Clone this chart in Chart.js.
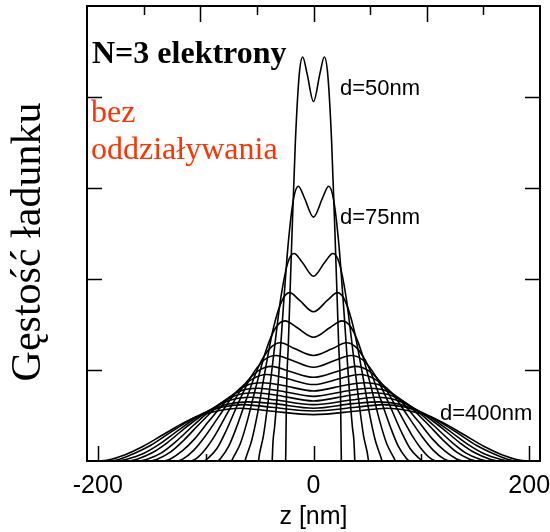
<!DOCTYPE html>
<html>
<head>
<meta charset="utf-8">
<script src="https://cdn.jsdelivr.net/npm/chart.js@4.4.1/dist/chart.umd.min.js"></script>
<style>
  html, body { margin: 0; padding: 0; background: #ffffff; }
  #wrap { width: 550px; height: 532px; }
</style>
</head>
<body>
<div id="wrap"><canvas id="c" width="550" height="532"></canvas></div>
<script>
// ---- data (z in nm, charge density in arbitrary units) ----
const z50  = [-25.8,-25,-23.4,-20.4,-16.8,-13.2,-10,-6,0,6,10,13.2,16.8,20.4,23.4,25,25.8];
const rho50 = [0,0.76,1.26,2.33,3.51,4.25,4.44,4.26,3.95,4.26,4.44,4.25,3.51,2.33,1.26,0.76,0];

const z75  = [-38.3,-37.5,-36.1,-32.8,-28.6,-23.5,-18.5,-14,-8.4,0,8.4,14,18.5,23.5,28.6,32.8,36.1,37.5,38.3];
const rho75 = [0,0.22,0.37,0.85,1.58,2.38,2.88,3.02,2.89,2.68,2.89,3.02,2.88,2.38,1.58,0.85,0.37,0.22,0];

const z100  = [-51,-50,-46.4,-42.1,-36.7,-30.2,-23.8,-18,-10.8,0,10.8,18,23.8,30.2,36.7,42.1,46.4,50,51];
const rho100 = [0,0.08,0.28,0.65,1.19,1.8,2.18,2.28,2.19,2.03,2.19,2.28,2.18,1.8,1.19,0.65,0.28,0.08,0];

const z125  = [-63.5,-62.5,-57.2,-51.9,-45.2,-37.2,-29.3,-22.2,-13.3,0,13.3,22.2,29.3,37.2,45.2,51.9,57.2,62.5,63.5];
const rho125 = [0,0.04,0.23,0.52,0.97,1.46,1.76,1.85,1.77,1.64,1.77,1.85,1.76,1.46,0.97,0.52,0.23,0.04,0];

const z150  = [-76,-74.3,-67.9,-61.6,-53.7,-44.2,-34.8,-26.3,-15.8,0,15.8,26.3,34.8,44.2,53.7,61.6,67.9,74.3,76];
const rho150 = [0,0.04,0.19,0.43,0.8,1.21,1.47,1.54,1.47,1.36,1.47,1.54,1.47,1.21,0.8,0.43,0.19,0.04,0];

const z175  = [-88.5,-86,-78.7,-71.4,-62.2,-51.2,-40.3,-30.5,-18.3,0,18.3,30.5,40.3,51.2,62.2,71.4,78.7,86,88.5];
const rho175 = [0,0.03,0.16,0.37,0.68,1.03,1.24,1.3,1.24,1.16,1.24,1.3,1.24,1.03,0.68,0.37,0.16,0.03,0];

const z200  = [-101,-97.8,-89.4,-81.1,-70.7,-58.2,-45.8,-34.7,-20.8,0,20.8,34.7,45.8,58.2,70.7,81.1,89.4,97.8,101];
const rho200 = [0,0.03,0.14,0.33,0.61,0.92,1.11,1.16,1.11,1.03,1.11,1.16,1.11,0.92,0.61,0.33,0.14,0.03,0];

const z225  = [-113.5,-109.5,-100.2,-90.9,-79.2,-65.2,-51.3,-38.8,-23.3,0,23.3,38.8,51.3,65.2,79.2,90.9,100.2,109.5,113.5];
const rho225 = [0,0.02,0.13,0.29,0.54,0.82,0.99,1.04,0.99,0.92,0.99,1.04,0.99,0.82,0.54,0.29,0.13,0.02,0];

const z250  = [-126,-121.3,-110.9,-100.6,-87.7,-72.2,-56.8,-43,-25.8,0,25.8,43,56.8,72.2,87.7,100.6,110.9,121.3,126];
const rho250 = [0,0.02,0.12,0.27,0.49,0.75,0.9,0.95,0.91,0.84,0.91,0.95,0.9,0.75,0.49,0.27,0.12,0.02,0];

const z275  = [-138.5,-133,-121.7,-110.4,-96.2,-79.2,-62.3,-47.2,-28.3,0,28.3,47.2,62.3,79.2,96.2,110.4,121.7,133,138.5];
const rho275 = [0,0.02,0.11,0.24,0.45,0.68,0.83,0.86,0.83,0.77,0.83,0.86,0.83,0.68,0.45,0.24,0.11,0.02,0];

const z300  = [-151,-144.8,-132.4,-120.1,-104.7,-86.2,-67.8,-51.3,-30.8,0,30.8,51.3,67.8,86.2,104.7,120.1,132.4,144.8,151];
const rho300 = [0,0.02,0.1,0.23,0.42,0.63,0.77,0.8,0.77,0.71,0.77,0.8,0.77,0.63,0.42,0.23,0.1,0.02,0];

const z320  = [-161,-154.2,-141,-127.9,-111.5,-91.8,-72.2,-54.7,-32.8,0,32.8,54.7,72.2,91.8,111.5,127.9,141,154.2,161];
const rho320 = [0,0.02,0.09,0.21,0.39,0.59,0.72,0.75,0.72,0.66,0.72,0.75,0.72,0.59,0.39,0.21,0.09,0.02,0];

const z340  = [-171,-163.6,-149.6,-135.7,-118.3,-97.4,-76.6,-58,-34.8,0,34.8,58,76.6,97.4,118.3,135.7,149.6,163.6,171];
const rho340 = [0,0.02,0.09,0.2,0.37,0.55,0.67,0.7,0.67,0.62,0.67,0.7,0.67,0.55,0.37,0.2,0.09,0.02,0];

const z360  = [-181,-173,-158.2,-143.5,-125.1,-103,-81,-61.3,-36.8,0,36.8,61.3,81,103,125.1,143.5,158.2,173,181];
const rho360 = [0,0.02,0.08,0.18,0.34,0.52,0.62,0.65,0.63,0.58,0.63,0.65,0.62,0.52,0.34,0.18,0.08,0.02,0];

const z380  = [-191,-182.4,-166.8,-151.3,-131.9,-108.6,-85.4,-64.7,-38.8,0,38.8,64.7,85.4,108.6,131.9,151.3,166.8,182.4,191];
const rho380 = [0,0.01,0.08,0.17,0.32,0.49,0.59,0.62,0.59,0.55,0.59,0.62,0.59,0.49,0.32,0.17,0.08,0.01,0];

const z400  = [-200.5,-190.8,-174.6,-158.3,-138,-113.7,-89.3,-67.7,-40.6,0,40.6,67.7,89.3,113.7,138,158.3,174.6,190.8,200.5];
const rho400 = [0,0.01,0.07,0.16,0.3,0.46,0.55,0.58,0.55,0.51,0.55,0.58,0.55,0.46,0.3,0.16,0.07,0.01,0];

// ---- tick values / labels ----
const xTickValues = [-200, -100, 0, 100, 200];
const xTickLabels = ['-200', '', '0', '', '200'];
const xMajorTicks = [-200, 0, 200];
const xMinorTicks = [-100, 100];
const topMajorTicks = [-105, 0, 105];
const topMinorTicks = [-157.5, -52.5, 52.5, 157.5];
const yTickValues = [1, 2, 3, 4];

// ---- text ----
const xTitle = 'z [nm]';
const yTitle = 'Gęstość ładunku';
const titleText = 'N=3 elektrony';
const noteLines = ['bez', 'oddziaływania'];
const curveLabels = [
  { text: 'd=50nm',  x: 340, y: 95 },
  { text: 'd=75nm',  x: 340, y: 224 },
  { text: 'd=400nm', x: 440, y: 420 }
];

// ---- build datasets ----
const curves = [
  [z50, rho50], [z75, rho75], [z100, rho100], [z125, rho125], [z150, rho150],
  [z175, rho175], [z200, rho200], [z225, rho225], [z250, rho250], [z275, rho275],
  [z300, rho300], [z320, rho320], [z340, rho340], [z360, rho360], [z380, rho380], [z400, rho400]
];
const datasets = curves.map(([zs, rs]) => ({
  data: zs.map((z, i) => ({ x: z, y: rs[i] })),
  borderColor: '#000000',
  borderWidth: 1.6,
  pointRadius: 0,
  fill: false,
  cubicInterpolationMode: 'monotone'
}));

const framePlugin = {
  id: 'frame',
  afterDraw(chart) {
    const ctx = chart.ctx;
    const { left, right, top, bottom } = chart.chartArea;
    const xs = chart.scales.x, ys = chart.scales.y;
    ctx.save();
    ctx.strokeStyle = '#000';
    ctx.lineWidth = 2;
    ctx.strokeRect(left, top, right - left, bottom - top);
    ctx.lineWidth = 1.5;
    ctx.beginPath();
    const vt = (vals, len, fromBottom) => vals.forEach(v => {
      const p = Math.round(xs.getPixelForValue(v)) + 0.5;
      if (fromBottom) { ctx.moveTo(p, bottom); ctx.lineTo(p, bottom - len); }
      else { ctx.moveTo(p, top); ctx.lineTo(p, top + len); }
    });
    vt(xMajorTicks, 15, true);
    vt(xMinorTicks, 7, true);
    vt(topMajorTicks, 16, false);
    vt(topMinorTicks, 9, false);
    yTickValues.forEach(v => {
      const p = Math.round(ys.getPixelForValue(v)) + 0.5;
      ctx.moveTo(left, p); ctx.lineTo(left + 15, p);
      ctx.moveTo(right, p); ctx.lineTo(right - 15, p);
    });
    ctx.stroke();

    // y title
    ctx.fillStyle = '#000';
    ctx.font = '42px "Liberation Serif", "Times New Roman", serif';
    ctx.textAlign = 'center';
    ctx.textBaseline = 'middle';
    ctx.translate(29, 242);
    ctx.rotate(-Math.PI / 2);
    ctx.fillText(yTitle, 0, 0);
    ctx.setTransform(1, 0, 0, 1, 0, 0);

    ctx.textAlign = 'left';
    ctx.textBaseline = 'alphabetic';
    ctx.font = 'bold 32px "Liberation Serif", "Times New Roman", serif';
    ctx.fillText(titleText, 92, 63);
    ctx.fillStyle = '#ff3300';
    ctx.font = '32px "Liberation Serif", "Times New Roman", serif';
    ctx.fillText(noteLines[0], 91, 122);
    ctx.fillText(noteLines[1], 91, 159);
    ctx.fillStyle = '#000';
    ctx.font = '22px "Liberation Sans", Arial, sans-serif';
    curveLabels.forEach(l => ctx.fillText(l.text, l.x, l.y));
    ctx.restore();
  }
};

new Chart(document.getElementById('c'), {
  type: 'line',
  data: { datasets },
  options: {
    responsive: false,
    animation: false,
    devicePixelRatio: 1,
    layout: { autoPadding: false, padding: { left: 87, right: 10, top: 6, bottom: 0 } },
    plugins: { legend: { display: false }, tooltip: { enabled: false } },
    scales: {
      x: {
        type: 'linear',
        min: -210, max: 210,
        afterBuildTicks: s => { s.ticks = xTickValues.map(v => ({ value: v })); },
        afterFit: s => { s.paddingLeft = 0; s.paddingRight = 0; s.height = 71; },
        grid: { display: false, drawTicks: false },
        border: { display: false },
        ticks: {
          color: '#000',
          padding: 10,
          maxRotation: 0,
          autoSkip: false,
          font: { family: '"Liberation Sans", Arial, sans-serif', size: 25 },
          callback: v => { const i = xTickValues.indexOf(v); return i >= 0 ? xTickLabels[i] : ''; }
        },
        title: {
          display: true,
          text: xTitle,
          color: '#000',
          padding: { top: 1, bottom: 0 },
          font: { family: '"Liberation Sans", Arial, sans-serif', size: 25 }
        }
      },
      y: {
        type: 'linear',
        min: 0, max: 5,
        display: false
      }
    }
  },
  plugins: [framePlugin]
});
</script>
</body>
</html>
